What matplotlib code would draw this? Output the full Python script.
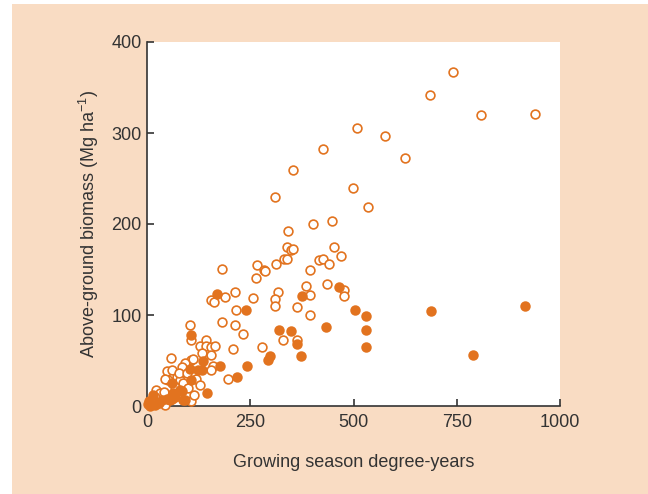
import matplotlib.pyplot as plt
from matplotlib.patches import Rectangle

# Above-ground biomass vs growing season degree-years
# open circles
open_x = [740, 686, 808, 939, 509, 577, 425, 625, 354, 499, 310, 536, 342, 403, 448,
          181, 338, 349, 354, 332, 338, 312, 266, 284, 265, 453, 470, 416, 427, 440,
          395, 384, 435, 476, 477, 395, 318, 310, 310, 364, 256, 214, 189, 156, 162,
          215, 395, 330, 364, 181, 213, 233, 278, 209, 197, 286,
          104, 107, 128, 143, 144, 156, 164, 133, 156, 59, 107, 91, 112, 84, 160,
          154, 119, 128, 106, 48, 52, 44, 72, 80, 68, 88, 23, 31, 19, 15, 44,
          60, 78, 96, 100, 40, 30, 60, 115, 75]
open_y = [367, 342, 320, 321, 306, 297, 282, 272, 259, 240, 230, 219, 192, 200, 203,
          151, 175, 171, 173, 161, 162, 156, 155, 149, 141, 175, 165, 160, 161, 156,
          149, 132, 134, 128, 121, 122, 125, 118, 110, 109, 119, 125, 120, 117, 114,
          106, 100, 72, 72, 92, 89, 79, 65, 63, 30, 148,
          89, 73, 66, 73, 66, 65, 66, 58, 56, 53, 51, 47, 52, 43, 44,
          40, 30, 23, 5, 38, 29, 30, 32, 29, 21, 25, 18, 14, 10, 7, 1,
          40, 36, 36, 20, 15, 3, 8, 12, 12]

# filled circles
fill_x = [466, 376, 169, 240, 503, 530, 530, 530, 687, 915, 789, 433, 320, 349, 362,
          374, 294, 298, 243, 219, 177, 136, 106, 123, 107, 146, 84, 91, 60, 104,
          134, 80, 64, 68, 7, 19, 27, 36, 48, 14, 5, 56, 88, 3]
fill_y = [131, 121, 123, 105, 105, 99, 84, 65, 104, 110, 56, 87, 83, 82, 68,
          55, 51, 55, 44, 32, 44, 50, 78, 40, 29, 14, 16, 7, 25, 41,
          40, 18, 14, 10, 0, 1, 3, 7, 8, 12, 5, 7, 7, 2]

ORANGE = '#E2731F'
PEACH = '#F9DCC3'
DARK = '#333333'

plt.rcParams['font.family'] = ['Liberation Sans', 'DejaVu Sans']
plt.rcParams['mathtext.fontset'] = 'custom'
plt.rcParams['mathtext.rm'] = 'Liberation Sans'

fig = plt.figure(figsize=(6.48, 4.94), dpi=100, facecolor='white')

# peach panel behind the chart
fig.patches.append(Rectangle((12 / 648, 0), 1, 1 - 4 / 494, transform=fig.transFigure,
                             facecolor=PEACH, edgecolor='none', zorder=-10))

ax = fig.add_axes([147 / 648, 1 - 406 / 494, 413 / 648, 364 / 494])
ax.set_facecolor('white')

ax.scatter(open_x, open_y, s=40, facecolors='white', edgecolors=ORANGE,
           linewidths=1.2, zorder=3, clip_on=False)
ax.scatter(fill_x, fill_y, s=40, facecolors=ORANGE, edgecolors=ORANGE,
           linewidths=1.2, zorder=4, clip_on=False)

ax.set_xlim(0, 1000)
ax.set_ylim(0, 400)
ax.set_xticks([0, 250, 500, 750, 1000])
ax.set_yticks([0, 100, 200, 300, 400])

# only left and bottom axis lines
for s in ['top', 'right']:
    ax.spines[s].set_visible(False)
for s in ['left', 'bottom']:
    ax.spines[s].set_color(DARK)
    ax.spines[s].set_linewidth(1.2)

ax.tick_params(direction='in', length=5, width=1.2, color=DARK,
               labelcolor=DARK, labelsize=13)
ax.tick_params(axis='x', pad=6)
ax.tick_params(axis='y', pad=4)

ax.set_xlabel('Growing season degree-years', fontsize=13, color=DARK, labelpad=16)
ax.set_ylabel(r'Above-ground biomass (Mg ha$^{\mathregular{-1}}$)', fontsize=13,
              color=DARK, labelpad=7)

plt.savefig('out.png', dpi=100, facecolor=fig.get_facecolor())
plt.close()
